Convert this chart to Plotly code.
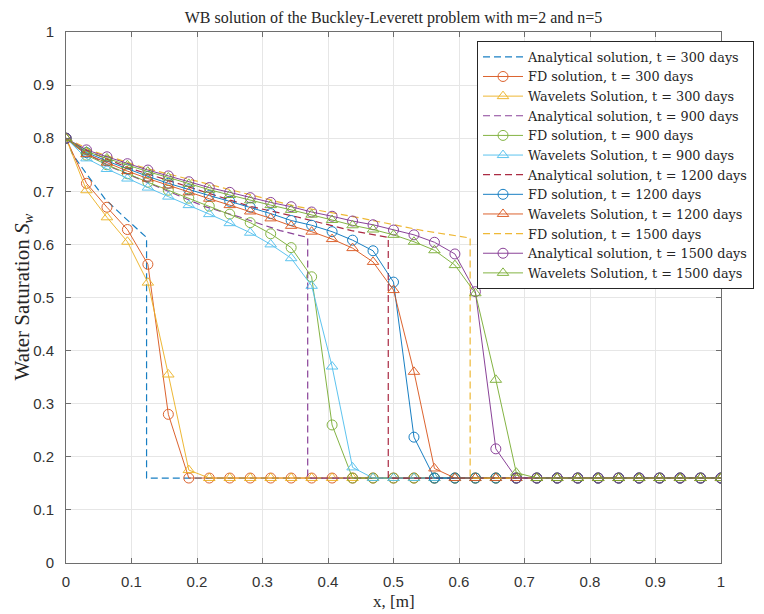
import plotly.graph_objects as go

# grid of x positions (33 nodes)
x_nodes = [i / 32 for i in range(33)]

# numerical solutions (first values, then flat 0.16 to x=1)
fd_300 = [0.8, 0.715, 0.670, 0.628, 0.5625, 0.28]
wv_300 = [0.8, 0.702, 0.651, 0.605, 0.528, 0.355, 0.175]
fd_900 = [0.8, 0.768, 0.750, 0.733, 0.717, 0.702, 0.687, 0.672, 0.657, 0.641, 0.620, 0.594, 0.539, 0.26]
wv_900 = [0.8, 0.762, 0.742, 0.724, 0.707, 0.690, 0.674, 0.657, 0.640, 0.622, 0.600, 0.574, 0.522, 0.37, 0.18]
fd_1200 = [0.8, 0.773, 0.757, 0.742, 0.728, 0.715, 0.703, 0.692, 0.681, 0.670, 0.658, 0.645,
           0.636, 0.624, 0.608, 0.588, 0.529, 0.237]
wv_1200 = [0.8, 0.770, 0.754, 0.738, 0.724, 0.711, 0.698, 0.686, 0.674, 0.662, 0.649, 0.635,
           0.624, 0.610, 0.593, 0.567, 0.514, 0.36, 0.178]
fd_1500 = [0.8, 0.778, 0.765, 0.752, 0.740, 0.729, 0.718, 0.707, 0.698, 0.688, 0.679, 0.671,
           0.661, 0.653, 0.644, 0.637, 0.627, 0.618, 0.604, 0.582, 0.511, 0.215]
wv_1500 = [0.8, 0.775, 0.762, 0.749, 0.737, 0.726, 0.714, 0.703, 0.693, 0.683, 0.674, 0.665,
           0.656, 0.646, 0.636, 0.628, 0.618, 0.605, 0.589, 0.561, 0.508, 0.345, 0.17]
s_init = 0.16

# analytical solutions (dashed)
an_300_x = [0, 0.01, 0.03, 0.06, 0.09, 0.123, 0.123, 1.0]
an_300_y = [0.8, 0.77, 0.735, 0.685, 0.650, 0.613, 0.16, 0.16]
an_900_x = [0, 0.024, 0.072, 0.21, 0.264, 0.327, 0.369, 0.369, 1.0]
an_900_y = [0.8, 0.776, 0.744, 0.672, 0.652, 0.626, 0.613, 0.16, 0.16]
an_1200_x = [0, 0.032, 0.096, 0.28, 0.352, 0.436, 0.492, 0.492, 1.0]
an_1200_y = [0.8, 0.776, 0.744, 0.672, 0.652, 0.626, 0.613, 0.16, 0.16]
an_1500_x = [0, 0.04, 0.12, 0.35, 0.44, 0.545, 0.617, 0.617, 1.0]
an_1500_y = [0.8, 0.776, 0.744, 0.672, 0.652, 0.626, 0.612, 0.16, 0.16]

x_ticks = [0, 0.1, 0.2, 0.3, 0.4, 0.5, 0.6, 0.7, 0.8, 0.9, 1]
y_ticks = [0, 0.1, 0.2, 0.3, 0.4, 0.5, 0.6, 0.7, 0.8, 0.9, 1]

C_BLUE = "#0072BD"
C_ORANGE = "#D95319"
C_YELLOW = "#EDB120"
C_PURPLE = "#7E2F8E"
C_GREEN = "#77AC30"
C_LBLUE = "#4DBEEE"
C_DRED = "#A2142F"

SERIF = "Liberation Serif, Times New Roman, serif"
LEGEND_SERIF = "DejaVu Serif, Liberation Serif, serif"


def full(vals):
    return list(vals) + [s_init] * (len(x_nodes) - len(vals))


fig = go.Figure()


def dashed(xs, ys, color, name):
    fig.add_trace(go.Scatter(x=xs, y=ys, mode="lines", name=name, opacity=0.9,
                             line=dict(color=color, width=1.2, dash="7px,4px")))


def marked(vals, color, symbol, name):
    fig.add_trace(go.Scatter(x=x_nodes, y=full(vals), mode="lines+markers", name=name,
                             opacity=0.9,
                             line=dict(color=color, width=1),
                             marker=dict(symbol=symbol, size=10, color=color,
                                         line=dict(color=color, width=1))))


dashed(an_300_x, an_300_y, C_BLUE, "Analytical solution, t = 300 days")
marked(fd_300, C_ORANGE, "circle-open", "FD solution, t = 300 days")
marked(wv_300, C_YELLOW, "triangle-up-open", "Wavelets Solution, t = 300 days")
dashed(an_900_x, an_900_y, C_PURPLE, "Analytical solution, t = 900 days")
marked(fd_900, C_GREEN, "circle-open", "FD solution, t = 900 days")
marked(wv_900, C_LBLUE, "triangle-up-open", "Wavelets Solution, t = 900 days")
dashed(an_1200_x, an_1200_y, C_DRED, "Analytical solution, t = 1200 days")
marked(fd_1200, C_BLUE, "circle-open", "FD solution, t = 1200 days")
marked(wv_1200, C_ORANGE, "triangle-up-open", "Wavelets Solution, t = 1200 days")
dashed(an_1500_x, an_1500_y, C_YELLOW, "FD solution, t = 1500 days")
marked(fd_1500, C_PURPLE, "circle-open", "Analytical solution, t = 1500 days")
marked(wv_1500, C_GREEN, "triangle-up-open", "Wavelets Solution, t = 1500 days")

axis_common = dict(
    showline=True, linecolor="#6e6e6e", linewidth=1, mirror="ticks",
    ticks="inside", ticklen=5, tickcolor="#6e6e6e",
    showgrid=True, gridcolor="#e6e6e6", gridwidth=1, zeroline=False,
    tickfont=dict(family="Liberation Sans, Arial", size=15, color="#333333"),
)

# page body has an 8px margin, so the figure is sized/offset accordingly
fig.update_layout(
    width=756, height=606,
    margin=dict(l=58, r=43, t=24, b=51, autoexpand=False),
    paper_bgcolor="white", plot_bgcolor="white",
    showlegend=True,
    title=dict(text="WB solution of the Buckley-Leverett problem with m=2 and n=5",
               x=0.5, xref="paper", xanchor="center", y=1 - 9 / 606, yref="container",
               yanchor="middle",
               font=dict(family=SERIF, size=16, color="#262626")),
    legend=dict(x=0.6275, xanchor="left", y=0.983, yanchor="top",
                bgcolor="white", bordercolor="#262626", borderwidth=1,
                font=dict(family=LEGEND_SERIF, size=12.8, color="#262626"),
                tracegroupgap=0, itemwidth=40),
    xaxis=dict(range=[0, 1], tickvals=x_ticks, ticktext=[f"{v:g}" for v in x_ticks],
               ticklabelstandoff=5, **axis_common),
    yaxis=dict(range=[0, 1], tickvals=y_ticks, ticktext=[f"{v:g}" for v in y_ticks],
               ticklabelstandoff=8, **axis_common),
    annotations=[
        dict(text="x, [m]", xref="paper", yref="paper", x=0.5, y=(563 - 601) / 531,
             xanchor="center", yanchor="middle", showarrow=False,
             font=dict(family=SERIF, size=17, color="#262626")),
        dict(text="Water Saturation <i>S</i><sub><i>w</i></sub>", xref="paper", yref="paper",
             x=(22 - 66) / 655, y=0.5, xanchor="center", yanchor="middle", textangle=-90,
             showarrow=False,
             font=dict(family=SERIF, size=21, color="#262626")),
    ],
)

fig.write_html("out.html")
